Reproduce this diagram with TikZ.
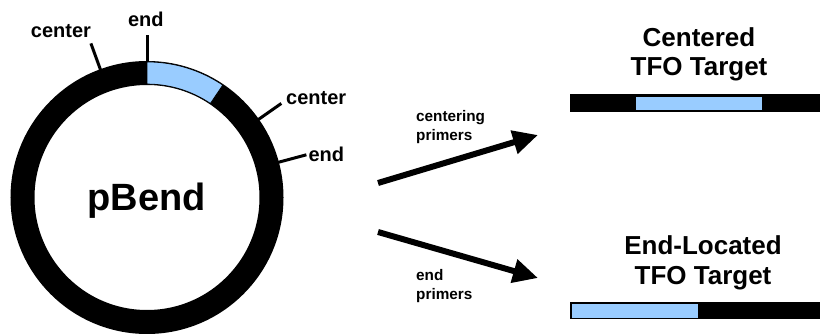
\documentclass[tikz,border=0pt]{standalone}
\usepackage{fontspec}
\setmainfont{Liberation Sans}
\usetikzlibrary{arrows.meta}
\definecolor{tfoblue}{RGB}{153,204,255}
\begin{document}
\begin{tikzpicture}[x=1pt,y=1pt,
  lbl/.style={inner sep=0pt,font=\bfseries\fontsize{20}{24}\selectfont},
  small/.style={inner sep=0pt,font=\bfseries\fontsize{15.3}{18}\selectfont},
  big/.style={inner sep=0pt,font=\bfseries\fontsize{26}{30}\selectfont},
  tick/.style={line width=3pt},
  bigarrow/.style={line width=6pt,-{Triangle[length=25pt,width=23pt]}},
  bar/.style={fill=black},
  target/.style={fill=tfoblue,draw=black,line width=0.8pt}]
\useasboundingbox (0,0) rectangle (820,333);
% plasmid
\coordinate (c) at (147,135.5);
\draw[line width=24pt] (c) circle[radius=124.5];
\filldraw[target] ([shift={(90:135.6)}]c) arc[start angle=90,end angle=56,radius=135.6]
  -- ([shift={(56:113.4)}]c) arc[start angle=56,end angle=90,radius=113.4] -- cycle;
\node[inner sep=0pt,font=\bfseries\fontsize{38}{44}\selectfont,anchor=base] (pbend) at (146.7,123) {pBend};
% ticks
\coordinate (t1a) at ([shift={(110:136)}]c); \coordinate (t1b) at ([shift={(110:164)}]c);
\coordinate (t2a) at ([shift={(90:136)}]c);  \coordinate (t2b) at ([shift={(90:163)}]c);
\coordinate (t3a) at ([shift={(35:136)}]c);  \coordinate (t3b) at ([shift={(35:164)}]c);
\coordinate (t4a) at ([shift={(15:136)}]c);  \coordinate (t4b) at ([shift={(15:165)}]c);
\draw[tick] (t1a) -- (t1b);
\draw[tick] (t2a) -- (t2b);
\draw[tick] (t3a) -- (t3b);
\draw[tick] (t4a) -- (t4b);
\node[lbl,anchor=base] (lc1) at (61,295.3) {center};
\node[lbl,anchor=base] (le1) at (145.8,307) {end};
\node[lbl,anchor=base west] (lc2) at (286,229) {center};
\node[lbl,anchor=base west] (le2) at (308.3,171.3) {end};
% arrows
\coordinate (a1s) at (378,150); \coordinate (a1e) at (538,198);
\coordinate (a2s) at (378,101); \coordinate (a2e) at (538,55);
\draw[bigarrow] (a1s) -- (a1e);
\draw[bigarrow] (a2s) -- (a2e);
\node[small,anchor=base west] (cp1) at (416,211.3) {centering};
\node[small,anchor=base west] (cp2) at (416,193) {primers};
\node[small,anchor=base west] (ep1) at (416,52.3) {end};
\node[small,anchor=base west] (ep2) at (416,33.7) {primers};
% targets
\node[big,anchor=base] (ct1) at (699,286.3) {Centered};
\node[big,anchor=base] (ct2) at (699,257.3) {TFO Target};
\fill[bar] (570,221.3) rectangle (820,238.7);
\filldraw[target] (635.7,223) rectangle (762.3,237);
\node[big,anchor=base] (et1) at (703,78.7) {End-Located};
\node[big,anchor=base] (et2) at (703,48.7) {TFO Target};
\fill[bar] (570,13.7) rectangle (820,31.3);
\filldraw[target] (571.7,15) rectangle (698,30);
\end{tikzpicture}
\end{document}
